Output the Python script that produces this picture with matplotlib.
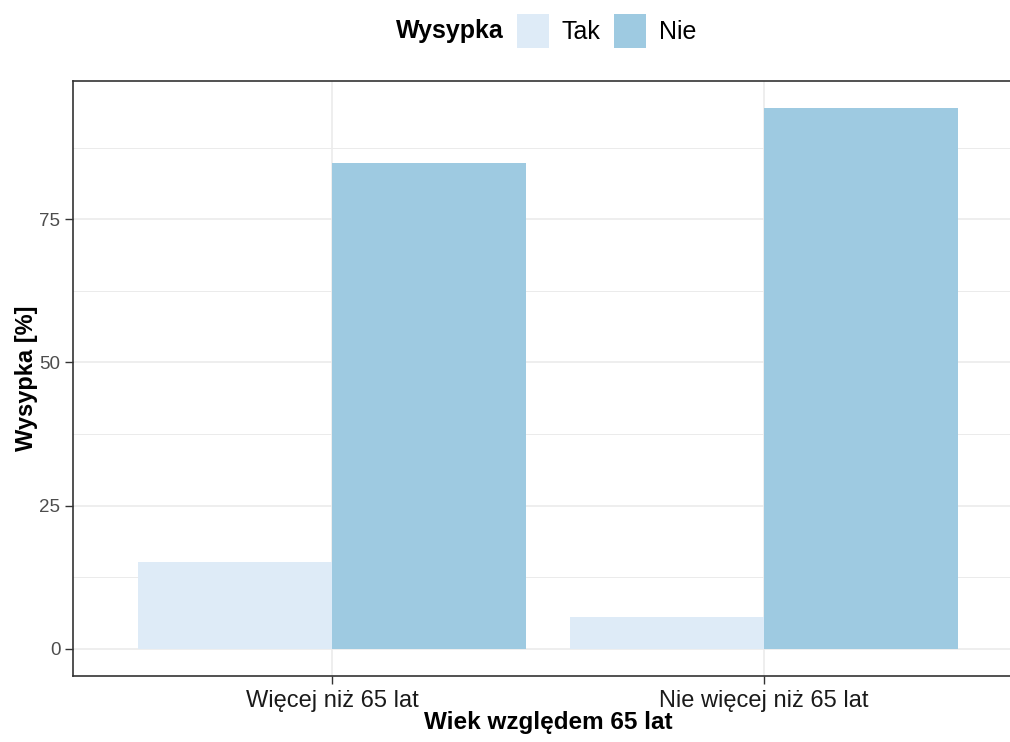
import numpy as np
import matplotlib.pyplot as plt
from matplotlib.patches import Patch

plt.rcParams['font.family'] = ['Liberation Sans', 'DejaVu Sans']

# data
categories = ['Więcej niż 65 lat', 'Nie więcej niż 65 lat']
groups = ['Tak', 'Nie']
tak_values = [15.2, 5.6]
nie_values = [84.8, 94.4]
colors = {'Tak': '#DEEBF7', 'Nie': '#9ECAE1'}

W, H = 1010, 742
fig = plt.figure(figsize=(W / 100, H / 100), dpi=100)
# panel runs past the right edge (reference image is cropped there)
ax = fig.add_axes([73 / W, (H - 676) / H, 950 / W, (676 - 81) / H])

x = np.arange(1, len(categories) + 1)
bw = 0.45
ax.bar(x - bw / 2, tak_values, width=bw, color=colors['Tak'], zorder=2)
ax.bar(x + bw / 2, nie_values, width=bw, color=colors['Nie'], zorder=2)

ymax = max(max(tak_values), max(nie_values))
ax.set_ylim(-0.05 * ymax, 1.05 * ymax)
ax.set_xlim(0.4, 2.6)

ax.set_yticks([0, 25, 50, 75])
ax.set_yticks([12.5, 37.5, 62.5, 87.5], minor=True)
ax.set_xticks(x)
ax.set_xticklabels(categories, fontsize=17, color='#1A1A1A')
ax.tick_params(axis='y', labelsize=13.5, colors='#333333', labelcolor='#4D4D4D',
               length=6, width=1, pad=3)
ax.tick_params(axis='x', colors='#333333', labelcolor='#1A1A1A', length=6, width=1, pad=4)
ax.tick_params(which='minor', length=0)
ax.grid(True, which='major', color='#EBEBEB', linewidth=1.2, zorder=0)
ax.grid(True, which='minor', color='#EBEBEB', linewidth=0.7, zorder=0)
ax.set_axisbelow(True)
for s in ax.spines.values():
    s.set_color('#333333')
    s.set_linewidth(1.2)

ax.set_xlabel('Wiek względem 65 lat', fontsize=17.5, fontweight='bold', labelpad=-1)
ax.set_ylabel('Wysypka [%]', fontsize=17, fontweight='bold', labelpad=1)

# legend at top: bold title followed by the keys
fig.text(396 / W, 1 - 31 / H, 'Wysypka', fontsize=18, fontweight='bold',
         ha='left', va='center')
handles = [Patch(facecolor=colors[g], edgecolor='none') for g in groups]
fig.legend(handles, groups, loc='center left', bbox_to_anchor=(517 / W, 1 - 31 / H),
           ncol=2, frameon=False, fontsize=18, borderpad=0, borderaxespad=0,
           handlelength=1.28, handleheight=1.75, handletextpad=0.5, columnspacing=0.55)

fig.savefig('out.png', dpi=100)
